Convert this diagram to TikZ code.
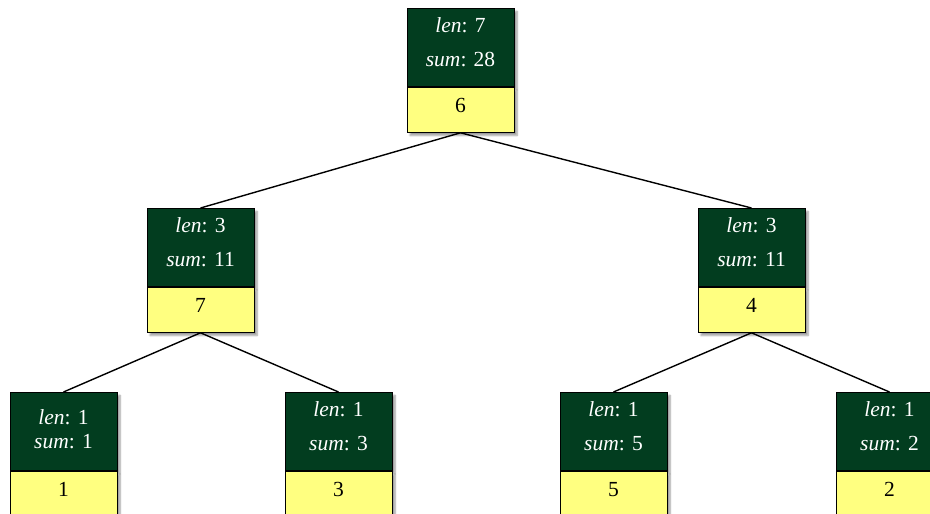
\documentclass[tikz,border=0pt]{standalone}
\usepackage{fontspec}
\setmainfont{Liberation Serif}
\usetikzlibrary{shadows.blur}
\definecolor{dkgreen}{HTML}{023D1F}
\definecolor{ltyellow}{HTML}{FFFF80}
\tikzset{
  boxshadow/.style={blur shadow={shadow xshift=3pt, shadow yshift=-3pt, shadow blur steps=6, shadow opacity=40}},
  darkpart/.style={draw=black, line width=0.9pt, fill=dkgreen, text=white,
    minimum width=107pt, minimum height=78pt, inner sep=0pt, anchor=north,
    align=center, font=\fontsize{21.5}{22}\selectfont, text depth=10.5pt, boxshadow},
  tightpart/.style={darkpart, text depth=5pt},
  lightpart/.style={draw=black, line width=0.9pt, fill=ltyellow, text=black,
    minimum width=107pt, minimum height=45pt, inner sep=0pt, anchor=north,
    font=\fontsize{21.5}{22}\selectfont, text depth=9pt, boxshadow},
  edge/.style={draw=black, line width=1.4pt}
}
\newcommand{\lensum}[3]{\textit{len}: #1\\[#3]\textit{sum}: #2}
\begin{document}
\begin{tikzpicture}[x=1pt,y=-1pt]
\useasboundingbox (0,0) rectangle (930,514);
% root
\node[darkpart] (rT) at (460.5,8) {\lensum{7}{28}{12pt}};
\node[lightpart] (rB) at (rT.south) {6};
% level 2
\node[darkpart] (aT) at (200.5,208) {\lensum{3}{11}{12pt}};
\node[lightpart] (aB) at (aT.south) {7};
\node[darkpart] (bT) at (751.5,208) {\lensum{3}{11}{12pt}};
\node[lightpart] (bB) at (bT.south) {4};
% leaves
\node[tightpart] (cT) at (63.5,392) {\lensum{1}{1}{2pt}};
\node[lightpart] (cB) at (cT.south) {1};
\node[darkpart] (dT) at (338.5,392) {\lensum{1}{3}{12pt}};
\node[lightpart] (dB) at (dT.south) {3};
\node[darkpart] (eT) at (613.5,392) {\lensum{1}{5}{12pt}};
\node[lightpart] (eB) at (eT.south) {5};
\node[darkpart] (fT) at (889.5,392) {\lensum{1}{2}{12pt}};
\node[lightpart] (fB) at (fT.south) {2};
% edges
\draw[edge] (rB.south) -- (aT.north);
\draw[edge] (rB.south) -- (bT.north);
\draw[edge] (aB.south) -- (cT.north);
\draw[edge] (aB.south) -- (dT.north);
\draw[edge] (bB.south) -- (eT.north);
\draw[edge] (bB.south) -- (fT.north);
\end{tikzpicture}
\end{document}
